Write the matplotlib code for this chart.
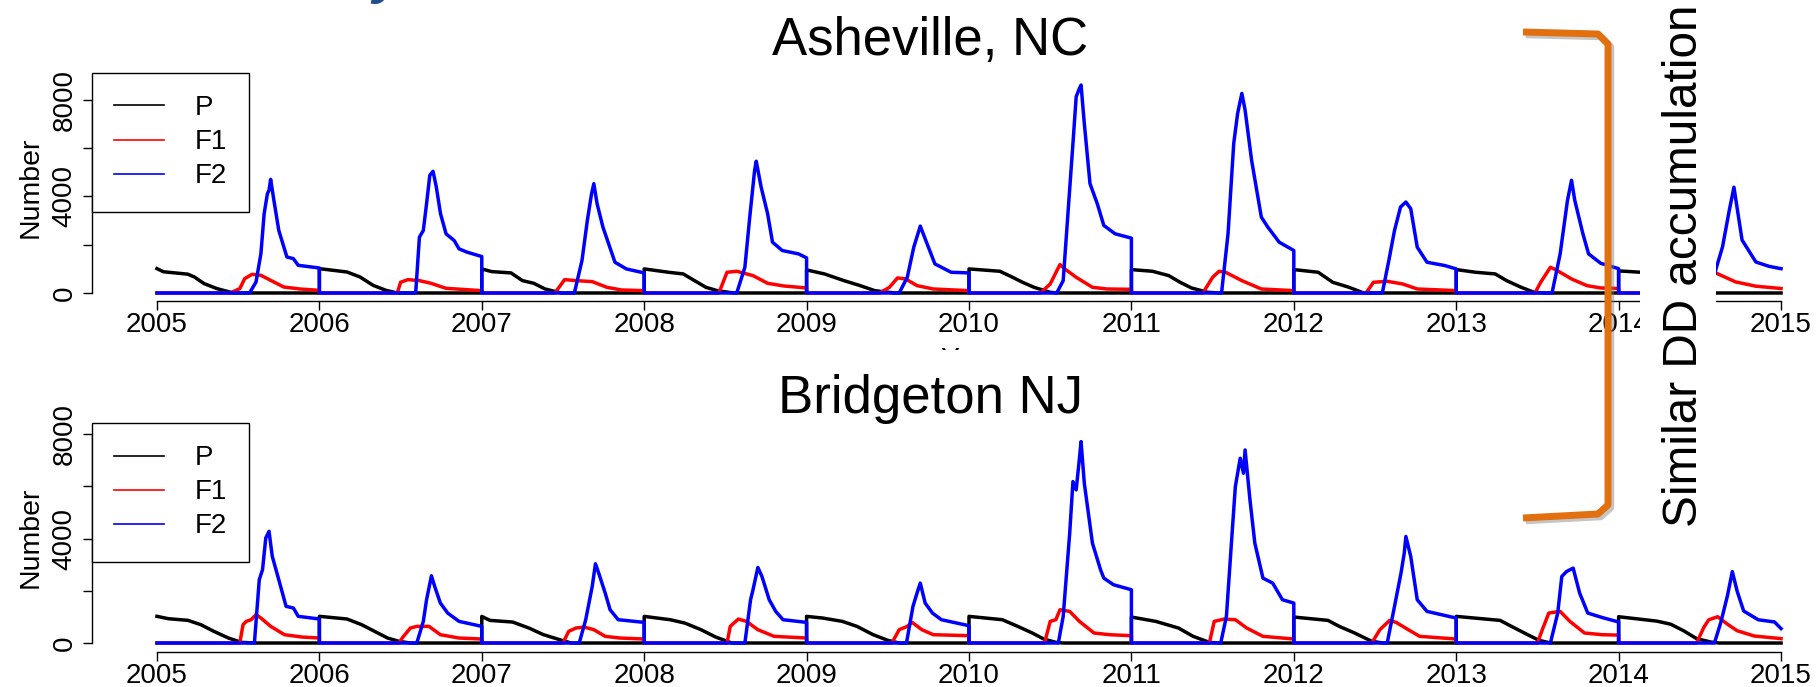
import numpy as np
import matplotlib
matplotlib.use("Agg")
import matplotlib.pyplot as plt
import matplotlib.patheffects as pe
from matplotlib.patches import Rectangle
from matplotlib.lines import Line2D
from matplotlib.transforms import Bbox, TransformedBbox

plt.rcParams["font.family"] = ["Liberation Sans", "DejaVu Sans"]

years = list(range(2005, 2016))
y_ticks = [0, 2000, 4000, 6000, 8000]
y_tick_labels = ["0", "", "4000", "", "8000"]
series_names = ["P", "F1", "F2"]
series_colors = ["black", "red", "blue"]

# Asheville, NC  -- (decimal year, number)
ash_p = [
    (2005.00, 1009), (2005.04, 880), (2005.19, 780), (2005.23, 665), (2005.29, 390), (2005.37, 180), (2005.47, 0), (2006.0, 0),
    (2006.0, 1009), (2006.17, 870), (2006.25, 665), (2006.33, 320), (2006.41, 110), (2006.48, 0), (2007.0, 0),
    (2007.0, 998), (2007.06, 887), (2007.18, 832), (2007.25, 513), (2007.32, 402), (2007.39, 166), (2007.49, 0), (2008.0, 0),
    (2008.0, 998), (2008.15, 859), (2008.24, 790), (2008.31, 513), (2008.38, 236), (2008.45, 97), (2008.55, 0), (2009.0, 0),
    (2009.0, 956), (2009.11, 790), (2009.23, 513), (2009.33, 305), (2009.42, 97), (2009.54, 0), (2010.0, 0),
    (2010.0, 998), (2010.19, 900), (2010.26, 679), (2010.33, 443), (2010.40, 236), (2010.50, 28), (2010.54, 0), (2011.0, 0),
    (2011.0, 970), (2011.13, 900), (2011.23, 720), (2011.30, 443), (2011.37, 208), (2011.47, 28), (2011.54, 0), (2012.0, 0),
    (2012.0, 970), (2012.15, 859), (2012.24, 443), (2012.34, 236), (2012.43, 0), (2013.0, 0),
    (2013.0, 970), (2013.12, 859), (2013.24, 790), (2013.31, 513), (2013.40, 236), (2013.48, 28), (2013.54, 0), (2014.0, 0),
    (2014.0, 916), (2014.13, 862), (2014.25, 750), (2014.35, 500), (2014.45, 200), (2014.55, 0), (2015.0, 0),
]
ash_f1 = [
    (2005.0, 0), (2005.45, 0), (2005.51, 180), (2005.54, 594), (2005.585, 774), (2005.64, 733), (2005.70, 525), (2005.78, 249), (2005.88, 166), (2006.0, 110), (2006.0, 0),
    (2006.48, 0), (2006.50, 444), (2006.545, 554), (2006.616, 513), (2006.687, 402), (2006.78, 194), (2007.0, 97), (2007.0, 0),
    (2007.45, 0), (2007.51, 554), (2007.58, 513), (2007.68, 471), (2007.77, 236), (2007.86, 125), (2008.0, 97), (2008.0, 0),
    (2008.46, 0), (2008.51, 859), (2008.57, 900), (2008.67, 720), (2008.76, 402), (2008.86, 291), (2009.0, 208), (2009.0, 0),
    (2009.45, 0), (2009.51, 236), (2009.56, 624), (2009.61, 582), (2009.68, 305), (2009.78, 166), (2010.0, 97), (2010.0, 0),
    (2010.44, 0), (2010.50, 374), (2010.56, 1178), (2010.59, 998), (2010.66, 651), (2010.76, 236), (2010.85, 166), (2011.0, 152), (2011.0, 0),
    (2011.44, 0), (2011.50, 651), (2011.54, 900), (2011.58, 859), (2011.68, 513), (2011.80, 166), (2012.0, 97), (2012.0, 0),
    (2012.445, 0), (2012.49, 443), (2012.575, 485), (2012.67, 374), (2012.76, 166), (2013.0, 97), (2013.0, 0),
    (2013.485, 0), (2013.52, 443), (2013.58, 1067), (2013.615, 956), (2013.71, 582), (2013.805, 305), (2013.89, 208), (2014.0, 186), (2014.0, 0),
    (2014.47, 0), (2014.52, 600), (2014.56, 950), (2014.60, 825), (2014.72, 460), (2014.845, 282), (2015.0, 186),
]
ash_f2 = [
    (2005.0, 0), (2005.57, 0), (2005.61, 456), (2005.64, 1631), (2005.66, 3289), (2005.68, 4118), (2005.69, 4256), (2005.70, 4712), (2005.72, 3842), (2005.75, 2598), (2005.80, 1493), (2005.84, 1423), (2005.87, 1147), (2006.0, 1036), (2006.0, 0),
    (2006.593, 0), (2006.616, 2315), (2006.64, 2592), (2006.66, 3700), (2006.68, 4879), (2006.70, 5045), (2006.72, 4394), (2006.746, 3285), (2006.78, 2453), (2006.83, 2176), (2006.86, 1830), (2006.91, 1691), (2007.0, 1511), (2007.0, 0),
    (2007.57, 0), (2007.617, 1344), (2007.65, 3008), (2007.676, 4116), (2007.69, 4532), (2007.71, 3700), (2007.746, 2730), (2007.82, 1275), (2007.89, 998), (2008.0, 832), (2008.0, 0),
    (2008.57, 0), (2008.62, 1067), (2008.65, 3146), (2008.68, 5087), (2008.69, 5461), (2008.72, 4394), (2008.76, 3285), (2008.79, 2107), (2008.85, 1760), (2008.95, 1622), (2009.0, 1455), (2009.0, 0),
    (2009.57, 0), (2009.62, 651), (2009.66, 1899), (2009.70, 2772), (2009.75, 1899), (2009.79, 1206), (2009.89, 859), (2010.0, 832), (2010.0, 0),
    (2010.54, 0), (2010.58, 513), (2010.615, 3839), (2010.64, 6195), (2010.66, 8136), (2010.68, 8482), (2010.69, 8620), (2010.71, 7027), (2010.745, 4532), (2010.79, 3700), (2010.83, 2800), (2010.90, 2453), (2011.0, 2273), (2011.0, 0),
    (2011.555, 0), (2011.595, 2453), (2011.63, 6195), (2011.654, 7443), (2011.68, 8274), (2011.70, 7582), (2011.74, 5503), (2011.80, 3146), (2011.84, 2730), (2011.91, 2107), (2012.0, 1760), (2012.0, 0),
    (2012.545, 0), (2012.585, 1344), (2012.62, 2592), (2012.657, 3562), (2012.69, 3770), (2012.72, 3493), (2012.76, 1899), (2012.82, 1275), (2012.93, 1137), (2013.0, 998), (2013.0, 0),
    (2013.59, 0), (2013.64, 1622), (2013.685, 3839), (2013.71, 4671), (2013.73, 3839), (2013.78, 2453), (2013.815, 1622), (2013.89, 1230), (2014.0, 1007), (2014.0, 0),
    (2014.56, 0), (2014.58, 500), (2014.60, 1007), (2014.64, 1919), (2014.68, 3380), (2014.71, 4385), (2014.76, 2196), (2014.845, 1285), (2014.925, 1107), (2015.0, 1007),
]

# Bridgeton NJ
bri_p = [
    (2005.0, 1021), (2005.07, 931), (2005.19, 868), (2005.27, 702), (2005.35, 447), (2005.44, 191), (2005.52, 26), (2005.60, 0), (2006.0, 0),
    (2006.0, 1021), (2006.17, 919), (2006.26, 702), (2006.34, 447), (2006.42, 191), (2006.49, 64), (2006.56, 0), (2007.0, 0),
    (2007.0, 1019), (2007.05, 866), (2007.19, 803), (2007.29, 573), (2007.38, 318), (2007.48, 127), (2007.55, 0), (2008.0, 0),
    (2008.0, 1019), (2008.16, 892), (2008.25, 764), (2008.35, 510), (2008.44, 229), (2008.54, 0), (2009.0, 0),
    (2009.0, 1019), (2009.10, 955), (2009.22, 828), (2009.31, 637), (2009.41, 318), (2009.50, 102), (2009.57, 0), (2010.0, 0),
    (2010.0, 1019), (2010.205, 892), (2010.30, 637), (2010.39, 382), (2010.46, 153), (2010.535, 25), (2010.58, 0), (2011.0, 0),
    (2011.0, 994), (2011.15, 828), (2011.29, 573), (2011.38, 255), (2011.48, 25), (2011.54, 0), (2012.0, 0),
    (2012.0, 994), (2012.21, 866), (2012.28, 637), (2012.375, 382), (2012.48, 64), (2012.55, 0), (2013.0, 0),
    (2013.0, 1019), (2013.27, 866), (2013.34, 637), (2013.44, 318), (2013.51, 102), (2013.58, 0), (2014.0, 0),
    (2014.0, 1006), (2014.235, 838), (2014.32, 721), (2014.40, 470), (2014.48, 168), (2014.57, 34), (2014.62, 0), (2015.0, 0),
]
bri_f1 = [
    (2005.0, 0), (2005.51, 0), (2005.53, 702), (2005.55, 829), (2005.58, 893), (2005.61, 1085), (2005.64, 957), (2005.70, 638), (2005.785, 319), (2005.89, 230), (2006.0, 191), (2006.0, 0),
    (2006.49, 0), (2006.51, 191), (2006.56, 573), (2006.60, 637), (2006.675, 637), (2006.745, 318), (2006.86, 191), (2007.0, 153), (2007.0, 0),
    (2007.50, 0), (2007.535, 446), (2007.58, 573), (2007.63, 611), (2007.69, 510), (2007.76, 255), (2007.85, 191), (2008.0, 153), (2008.0, 0),
    (2008.51, 0), (2008.53, 637), (2008.58, 917), (2008.63, 828), (2008.70, 510), (2008.80, 255), (2009.0, 191), (2009.0, 0),
    (2009.525, 0), (2009.57, 510), (2009.62, 637), (2009.65, 790), (2009.71, 510), (2009.78, 318), (2010.0, 280), (2010.0, 0),
    (2010.465, 0), (2010.50, 828), (2010.535, 892), (2010.56, 1274), (2010.62, 1210), (2010.68, 828), (2010.77, 382), (2010.865, 318), (2011.0, 280), (2011.0, 0),
    (2011.48, 0), (2011.51, 828), (2011.57, 917), (2011.64, 892), (2011.71, 573), (2011.81, 255), (2012.0, 153), (2012.0, 0),
    (2012.48, 0), (2012.53, 510), (2012.59, 866), (2012.63, 790), (2012.705, 510), (2012.775, 255), (2013.0, 153), (2013.0, 0),
    (2013.50, 0), (2013.53, 510), (2013.57, 1147), (2013.64, 1210), (2013.70, 828), (2013.79, 382), (2013.90, 318), (2014.0, 302), (2014.0, 0),
    (2014.48, 0), (2014.525, 604), (2014.555, 889), (2014.61, 1006), (2014.67, 721), (2014.73, 470), (2014.835, 268), (2015.0, 168),
]
bri_f2 = [
    (2005.0, 0), (2005.60, 0), (2005.63, 2424), (2005.65, 2807), (2005.67, 4019), (2005.69, 4275), (2005.71, 3318), (2005.75, 2424), (2005.795, 1404), (2005.84, 1340), (2005.87, 1021), (2006.0, 919), (2006.0, 0),
    (2006.60, 0), (2006.64, 828), (2006.66, 1656), (2006.69, 2573), (2006.71, 2166), (2006.745, 1529), (2006.79, 1147), (2006.86, 828), (2007.0, 637), (2007.0, 0),
    (2007.60, 0), (2007.64, 892), (2007.68, 2166), (2007.70, 3032), (2007.72, 2675), (2007.76, 1911), (2007.79, 1274), (2007.84, 892), (2008.0, 790), (2008.0, 0),
    (2008.62, 0), (2008.655, 1656), (2008.67, 2038), (2008.70, 2892), (2008.725, 2548), (2008.77, 1656), (2008.81, 1210), (2008.855, 892), (2009.0, 790), (2009.0, 0),
    (2009.615, 0), (2009.655, 1401), (2009.68, 1911), (2009.70, 2293), (2009.73, 1529), (2009.775, 1147), (2009.83, 892), (2010.0, 662), (2010.0, 0),
    (2010.55, 0), (2010.58, 1019), (2010.62, 4204), (2010.64, 6179), (2010.66, 5860), (2010.68, 7071), (2010.69, 7708), (2010.71, 6115), (2010.76, 3822), (2010.81, 2803), (2010.83, 2484), (2010.89, 2230), (2011.0, 2038), (2011.0, 0),
    (2011.55, 0), (2011.585, 1019), (2011.62, 4204), (2011.64, 5988), (2011.67, 7071), (2011.69, 6497), (2011.70, 7389), (2011.73, 5478), (2011.76, 3822), (2011.81, 2484), (2011.87, 2293), (2011.93, 1656), (2012.0, 1529), (2012.0, 0),
    (2012.575, 0), (2012.62, 1401), (2012.66, 2675), (2012.68, 3440), (2012.69, 4077), (2012.72, 3312), (2012.76, 1656), (2012.82, 1210), (2013.0, 955), (2013.0, 0),
    (2013.58, 0), (2013.625, 1147), (2013.65, 2548), (2013.68, 2739), (2013.72, 2866), (2013.76, 1911), (2013.81, 1147), (2013.90, 973), (2014.0, 805), (2014.0, 0),
    (2014.59, 0), (2014.63, 805), (2014.67, 1811), (2014.70, 2734), (2014.73, 1979), (2014.77, 1224), (2014.86, 889), (2014.96, 805), (2015.0, 553),
]

W, H = 1816, 687
fig = plt.figure(figsize=(W / 100, H / 100), dpi=100)


def px(x, y):
    # pixel position (from top-left) -> figure fraction
    return x / W, 1 - y / H


def panel(rect, ylim, data):
    ax = fig.add_axes(rect)
    for (name, color), pts in zip(zip(series_names, series_colors), data):
        t, v = np.array(pts).T
        ax.plot(t, v, color=color, lw=2.5, label=name, solid_joinstyle="round")
    ax.set_xlim(2004.6, 2015.4)
    ax.set_ylim(*ylim)
    ax.set_xticks(years)
    ax.set_yticks(y_ticks)
    ax.set_yticklabels(y_tick_labels)
    for s in ["top", "right"]:
        ax.spines[s].set_visible(False)
    ax.spines["left"].set_bounds(0, 8000)
    ax.spines["bottom"].set_bounds(2005, 2015)
    for s in ["left", "bottom"]:
        ax.spines[s].set_linewidth(1.0)
    ax.tick_params(axis="both", length=6.5, width=1.0, labelsize=20)
    ax.tick_params(axis="x", pad=1.5)
    ax.tick_params(axis="y", pad=3.7, labelrotation=90)
    for lab in ax.get_yticklabels():
        lab.set_verticalalignment("center")
    ax.set_ylabel("Number", fontsize=20.5)
    ax.yaxis.set_label_coords(-0.0274, 0.5)
    ax.patch.set_alpha(0)
    leg = ax.legend(loc="upper left", bbox_to_anchor=(0, 1), borderaxespad=0,
                    fancybox=False, edgecolor="black", framealpha=1, fontsize=20,
                    handlelength=1.8, handletextpad=1.1, borderpad=0.8,
                    labelspacing=0.29)
    leg.get_frame().set_linewidth(1.0)
    for ln in leg.get_lines():
        ln.set_linewidth(1.2)
    return ax


left, right = 92, 1846
x0, _ = px(left, 0)
wid = (right - left) / W

ax1 = panel([x0, 1 - 301 / H, wid, 228 / H], (-332, 9119), [ash_p, ash_f1, ash_f2])
ax2 = panel([x0, 1 - 652 / H, wid, 229 / H], (-344, 8421), [bri_p, bri_f1, bri_f2])

# top panel's x label, mostly hidden under the lower panel
ax1.set_xlabel("Year", fontsize=20.5)
ax1.xaxis.set_label_coords(0.5, -0.200)
clip = TransformedBbox(Bbox([[0, 1 - 350 / H], [1, 1]]), fig.transFigure)
ax1.xaxis.label.set_clip_on(True)
ax1.xaxis.label.set_clip_box(clip)

fig.text(*px(930, 55), "Asheville, NC", fontsize=38, ha="center", va="baseline")
fig.text(*px(930, 413), "Bridgeton NJ", fontsize=38, ha="center", va="baseline")

# cut-off slide title fragment
fig.text(*px(372, -8), "y", fontsize=40, style="italic", weight="bold",
         color="#1F4E8C", ha="left", va="baseline")

# white text box covering part of the top panel
bx, by = px(1640, 535)
fig.patches.append(Rectangle((bx, by), 76 / W, 535 / H, transform=fig.transFigure,
                             facecolor="white", edgecolor="none", zorder=5))

fig.text(*px(1707, 266), "Similar DD accumulation", fontsize=34.4, rotation=90,
         ha="right", va="center", zorder=6)

# orange bracket
bpts = [(1523, 32), (1598, 34), (1608, 44), (1608, 505), (1598, 514), (1523, 518)]
bxs = [p[0] / W for p in bpts]
bys = [1 - p[1] / H for p in bpts]
bracket = Line2D(bxs, bys, transform=fig.transFigure, color="#E2700F", lw=5,
                 solid_joinstyle="round", solid_capstyle="butt", zorder=7,
                 path_effects=[pe.SimpleLineShadow(offset=(2, -2), shadow_color="gray", alpha=0.45),
                               pe.Normal()])
fig.lines.append(bracket)

fig.savefig("out.png", dpi=100)
